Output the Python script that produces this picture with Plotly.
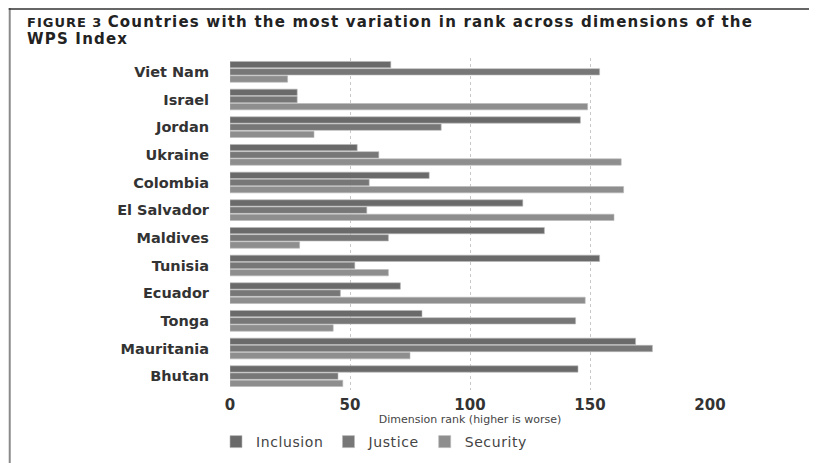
import plotly.graph_objects as go

countries = ["Viet Nam", "Israel", "Jordan", "Ukraine", "Colombia", "El Salvador",
             "Maldives", "Tunisia", "Ecuador", "Tonga", "Mauritania", "Bhutan"]
inclusion = [67, 28, 146, 53, 83, 122, 131, 154, 71, 80, 169, 145]
justice = [154, 28, 88, 62, 58, 57, 66, 52, 46, 144, 176, 45]
security = [24, 149, 35, 163, 164, 160, 29, 66, 148, 43, 75, 47]
x_ticks = [0, 50, 100, 150, 200]

series = [("Inclusion", inclusion, "#6a6a6a"),
          ("Justice", justice, "#777777"),
          ("Security", security, "#8e8e8e")]

fig = go.Figure()
for name, vals, col in series:
    fig.add_trace(go.Bar(
        y=countries, x=vals, orientation="h",
        name="<span style='letter-spacing:0.6px'>" + name + "</span>",
        marker=dict(color=col, line=dict(color="#b8b8b8", width=0.6)),
    ))

# page body has an 8px margin; figure coordinates = screen - 8
W, H = 817, 463
L, R, T, B = 221.5, 115, 50, 81
pw, ph = W - L - R, H - T - B

def px(x):
    return (x - L) / pw

def py(y):
    return (H - B - y) / ph

fig.update_layout(
    width=W, height=H,
    margin=dict(l=L, r=R, t=T, b=B, autoexpand=False),
    paper_bgcolor="white", plot_bgcolor="white",
    barmode="group", bargap=0.22, bargroupgap=0.12,
    font=dict(family="DejaVu Sans", color="#333333"),
    xaxis=dict(
        range=[0, 200], tickvals=x_ticks, ticktext=[str(v) for v in x_ticks],
        showgrid=True, gridcolor="#c8c8c8", griddash="dot", gridwidth=1,
        zeroline=False, showline=False, ticks="", ticklabelstandoff=4,
        tickfont=dict(family="DejaVu Sans", size=15, color="#333333", weight="bold"),
        title=dict(text="Dimension rank (higher is worse)", standoff=3,
                   font=dict(family="DejaVu Sans", size=11, color="#444444")),
    ),
    yaxis=dict(
        autorange="reversed", showgrid=False, zeroline=False, ticks="",
        ticklabelstandoff=20,
        tickfont=dict(family="DejaVu Sans", size=14.5, color="#333333", weight="bold"),
    ),
    legend=dict(
        orientation="h", xref="container", yref="container",
        x=208 / W, xanchor="left", y=1 - 418 / H, yanchor="top",
        font=dict(family="DejaVu Sans", size=14, color="#444444"),
        itemwidth=30, traceorder="normal",
    ),
    showlegend=True,
)

title_lines = [
    ("<b><span style='font-size:13px;letter-spacing:1px'>FIGURE 3</span> "
     "<span style='letter-spacing:1.2px'>Countries with the most variation in rank "
     "across dimensions of the</span></b>", 14),
    ("<b><span style='letter-spacing:1.2px'>WPS Index</span></b>", 31),
]
for txt, yy in title_lines:
    fig.add_annotation(
        text=txt, xref="paper", yref="paper", x=px(16), y=py(yy),
        xanchor="left", yanchor="middle", showarrow=False,
        font=dict(family="DejaVu Sans", size=15, color="#222222"),
    )

fig.add_shape(type="line", xref="paper", yref="paper",
              x0=px(1), x1=px(1), y0=py(0), y1=py(H),
              line=dict(color="#8a8a8a", width=2))
fig.add_shape(type="line", xref="paper", yref="paper",
              x0=px(0), x1=px(W), y0=py(1), y1=py(1),
              line=dict(color="#333333", width=1.5))

fig.write_html("out.html")
